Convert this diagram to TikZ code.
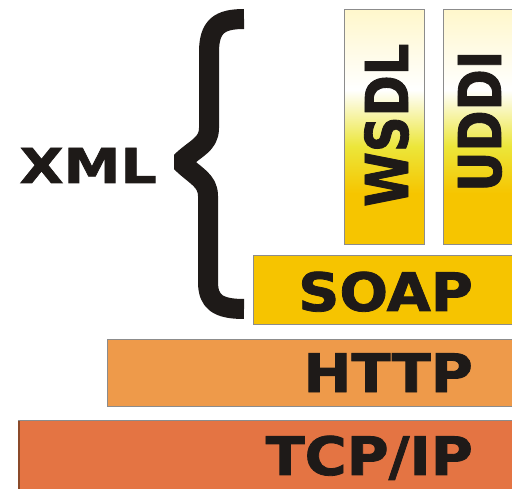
\documentclass[tikz,border=0pt]{standalone}
\usepackage{fontspec}
\newfontfamily\layerfont[FakeStretch=1.08,FakeBold=1.5]{DejaVu Sans Bold}
\newfontfamily\stackfont[FakeStretch=0.84,FakeBold=1.5]{DejaVu Sans Bold}
\newfontfamily\xmlfont[FakeStretch=1.19,FakeBold=1.5]{DejaVu Sans Bold}

\definecolor{ink}{HTML}{1E1A18}
\definecolor{edgegray}{HTML}{8C8C8C}
\definecolor{gold}{HTML}{F6C500}
\definecolor{lemon}{HTML}{ECE63A}
\definecolor{cream}{HTML}{FFF7CC}
\definecolor{soapcol}{HTML}{F6C400}
\definecolor{httpcol}{HTML}{EE9A4A}
\definecolor{tcpcol}{HTML}{E47443}
\definecolor{tcpedge}{HTML}{8B4A2A}

\pgfdeclareverticalshading{stackshade}{100bp}{color(0bp)=(gold); color(36bp)=(gold); color(46bp)=(lemon); color(58bp)=(white); color(75bp)=(cream); color(100bp)=(cream)}

\begin{document}
\begin{tikzpicture}[x=1pt,y=-1pt,
  layer/.style={draw=edgegray,line width=1pt},
  layertext/.style={inner sep=0pt,text=ink,font=\layerfont\fontsize{53}{53}\selectfont},
  stacktext/.style={inner sep=0pt,text=ink,font=\stackfont\fontsize{59}{59}\selectfont},
  xmltext/.style={inner sep=0pt,text=ink,font=\xmlfont\fontsize{48}{48}\selectfont},
  brace/.style={draw=ink,line width=20pt,line join=bevel}]
  \useasboundingbox (0,0) rectangle (512,489);
  \clip (0,0) rectangle (512,489);

  % tcp/ip
  \draw[layer,fill=tcpcol] (18,420) rectangle (530,500);
  \draw[tcpedge,line width=2pt] (19,421) -- (19,489);
  \node[layertext,anchor=base east] (tcpip) at (473,475) {TCP/IP};

  % http
  \draw[layer,fill=httpcol] (107,340) rectangle (530,407);
  \node[layertext,anchor=base east] (http) at (473,392) {HTTP};

  % soap
  \draw[layer,fill=soapcol] (253,256) rectangle (530,325);
  \node[layertext,anchor=base east] (soap) at (473,311) {SOAP};

  % wsdl and uddi
  \shadedraw[layer,shading=stackshade] (344,10) rectangle (424,245);
  \shadedraw[layer,shading=stackshade] (443,10) rectangle (530,245);
  \node[stacktext,rotate=90,anchor=base west] (wsdl) at (408,207) {WSDL};
  \node[stacktext,rotate=90,anchor=base west] (uddi) at (501,192) {UDDI};

  % xml brace
  \draw[brace] (244,19) .. controls (220,19) and (209,26) .. (209,52)
    -- (209,128) .. controls (209,145) and (195,148) .. (181,162)
    .. controls (195,176) and (208,180) .. (208,196)
    -- (208,282) .. controls (208,302) and (218,309) .. (244,309);
  \node[xmltext,anchor=base east] (xml) at (157,183) {XML};

\end{tikzpicture}
\end{document}
